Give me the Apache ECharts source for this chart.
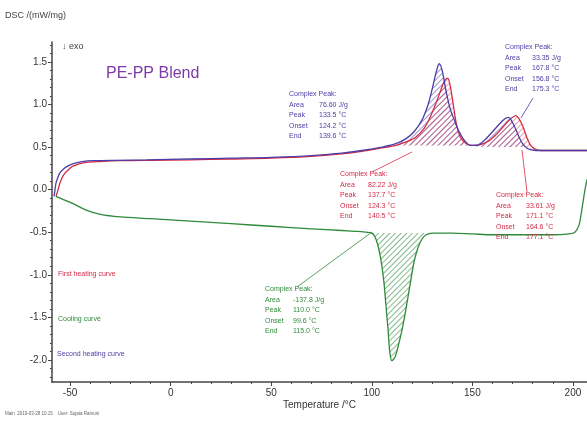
<!DOCTYPE html>
<html>
<head>
  <meta charset="utf-8">
  <title>DSC PE-PP Blend</title>
  <script src="https://cdn.jsdelivr.net/npm/echarts@6/dist/echarts.min.js"></script>
  <style>html, body { margin: 0; padding: 0; background: #fff; }</style>
</head>
<body>
  <div id="main" style="width:587px;height:426px;"></div>

  <script>
    // temperature (°C) and DSC signal (mW/mg)
    const heat1T = [-57, -56, -55, -54, -53, -51, -49, -46, -42, -35, -25, -10, 10, 30, 50, 70, 85, 95, 105, 112, 118, 122, 126, 129, 132, 134, 136, 137.7, 139, 140.5, 142, 144, 147, 150, 154, 158, 162, 165, 168, 170, 171.6, 173, 175, 177, 179, 181, 184, 190, 200, 207];
    const heat1Y = [-0.08, 0.0, 0.08, 0.14, 0.18, 0.23, 0.27, 0.3, 0.32, 0.33, 0.34, 0.345, 0.35, 0.36, 0.37, 0.39, 0.42, 0.45, 0.49, 0.52, 0.57, 0.62, 0.72, 0.85, 1.02, 1.15, 1.27, 1.31, 1.22, 1.0, 0.78, 0.62, 0.54, 0.52, 0.53, 0.57, 0.65, 0.73, 0.81, 0.85, 0.87, 0.84, 0.75, 0.62, 0.52, 0.48, 0.46, 0.46, 0.46, 0.46];

    const heat2T = [-58, -57.5, -57, -56, -55, -53, -51, -48, -44, -38, -28, -12, 10, 30, 50, 70, 85, 95, 105, 112, 117, 121, 125, 128, 130, 132, 133.5, 135, 137, 139, 141, 143, 146, 149, 152, 156, 160, 163, 166, 167.8, 169, 171, 173, 175, 177, 179, 182, 190, 200, 207];
    const heat2Y = [-0.08, 0.0, 0.08, 0.15, 0.2, 0.25, 0.28, 0.31, 0.33, 0.34, 0.345, 0.35, 0.36, 0.37, 0.38, 0.4, 0.43, 0.46, 0.5, 0.54, 0.6, 0.68, 0.82, 1.0, 1.18, 1.38, 1.48, 1.4, 1.15, 0.95, 0.82, 0.7, 0.58, 0.52, 0.52, 0.58, 0.68, 0.76, 0.83, 0.85, 0.83, 0.74, 0.63, 0.54, 0.49, 0.47, 0.46, 0.46, 0.46, 0.46];

    const coolT = [207, 206, 205, 204, 203, 201, 198, 190, 180, 170, 160, 150, 140, 130, 127, 125, 123, 121, 119, 117, 115, 113, 111.5, 110, 109, 108, 107, 106, 104.5, 103, 101.5, 100, 97, 93, 85, 70, 50, 30, 10, -10, -25, -35, -42, -48, -53, -57];
    const coolY = [0.12, 0.0, -0.15, -0.3, -0.42, -0.5, -0.52, -0.53, -0.53, -0.53, -0.53, -0.52, -0.51, -0.51, -0.53, -0.58, -0.68, -0.85, -1.12, -1.4, -1.65, -1.85, -1.97, -2.01, -1.92, -1.62, -1.35, -1.08, -0.82, -0.65, -0.55, -0.51, -0.5, -0.49, -0.48, -0.46, -0.43, -0.4, -0.37, -0.34, -0.32, -0.29, -0.24, -0.17, -0.12, -0.08];

    // hatched peak regions: [from T, to T, baseline]
    const heat1Peaks = [[112, 150, 0.52], [154, 181, 0.5]];
    const heat2Peaks = [[112, 152, 0.52], [152, 179, 0.5]];
    const coolPeaks = [[97, 130, -0.51]];

    const xTicks = [-50, 0, 50, 100, 150, 200];
    const yTicks = [1.5, 1.0, 0.5, 0.0, -0.5, -1.0, -1.5, -2.0];

    const noteHeat2a = ['Complex Peak:', ['Area', '76.60 J/g'], ['Peak', '133.5 °C'], ['Onset', '124.2 °C'], ['End', '139.6 °C']];
    const noteHeat2b = ['Complex Peak:', ['Area', '33.35 J/g'], ['Peak', '167.8 °C'], ['Onset', '156.8 °C'], ['End', '175.3 °C']];
    const noteHeat1a = ['Complex Peak:', ['Area', '82.22 J/g'], ['Peak', '137.7 °C'], ['Onset', '124.3 °C'], ['End', '140.5 °C']];
    const noteHeat1b = ['Complex Peak:', ['Area', '33.61 J/g'], ['Peak', '171.1 °C'], ['Onset', '164.6 °C'], ['End', '177.1 °C']];
    const noteCool = ['Complex Peak:', ['Area', '-137.8 J/g'], ['Peak', '110.0 °C'], ['Onset', '99.6 °C'], ['End', '115.0 °C']];

    const RED = '#d42a45', BLUE = '#4b3ea6', GREEN = '#2f8a3a';
    const FONT = 'Liberation Sans, Arial, sans-serif';

    const zip = (xs, ys) => xs.map((x, i) => [x, ys[i]]);

    function minors(step, lo, hi) {
      const out = [];
      for (let v = lo; v <= hi + 1e-9; v += step) out.push(+v.toFixed(3));
      return out;
    }

    function lineSeries(name, T, Y, color) {
      return {
        name, type: 'line', data: zip(T, Y), smooth: 0.3, symbol: 'none',
        lineStyle: { color, width: 1.3 }, z: 3
      };
    }

    function hatchSeries(T, Y, ranges, color) {
      return ranges.map(([a, b, base]) => ({
        type: 'line', symbol: 'none', smooth: 0.3, silent: true,
        data: zip(T, Y).filter(p => p[0] >= a && p[0] <= b).sort((p, q) => p[0] - q[0]),
        lineStyle: { width: 0, opacity: 0 },
        itemStyle: {
          color,
          decal: {
            symbol: 'rect', symbolSize: 1, color, backgroundColor: null,
            dashArrayX: [1, 0], dashArrayY: [1, 3], rotation: -Math.PI / 4
          }
        },
        areaStyle: { origin: base, color: 'rgba(255,255,255,0)', opacity: 1 },
        z: 2
      }));
    }

    function note(x, y, lines, color, col) {
      const rows = lines.map((l, i) => i === 0 ? '{h|' + l + '}' : '{k|' + l[0] + '}{v|' + l[1] + '}');
      return {
        type: 'text', left: x, top: y, z: 10,
        style: {
          text: rows.join('\n'), fill: color, font: '7px ' + FONT, lineHeight: 10.5,
          rich: {
            h: { fontSize: 7, fill: color, lineHeight: 10.5 },
            k: { fontSize: 7, fill: color, width: col, lineHeight: 10.5 },
            v: { fontSize: 7, fill: color, lineHeight: 10.5 }
          }
        }
      };
    }

    function leader(points, color) {
      return {
        type: 'polyline', z: 10, silent: true,
        shape: { points },
        style: { stroke: color, lineWidth: 0.8, fill: null }
      };
    }

    const chart = echarts.init(document.getElementById('main'));
    const axisColor = '#444';

    chart.setOption({
      animation: false,
      backgroundColor: '#fff',
      grid: { left: 52, right: 0, top: 42, bottom: 44, containLabel: false },
      xAxis: [{
        type: 'value', min: -59, max: 207, position: 'bottom',
        splitLine: { show: false },
        axisLine: { onZero: false, lineStyle: { color: axisColor, width: 1.5 } },
        axisTick: { customValues: xTicks, length: 4, lineStyle: { color: axisColor } },
        axisLabel: { customValues: xTicks, color: '#333', fontSize: 10, fontFamily: FONT, margin: 6 },
        name: 'Temperature /°C', nameLocation: 'middle', nameGap: 18, nameMoveOverlap: false,
        nameTextStyle: { color: '#333', fontSize: 10, fontFamily: FONT, verticalAlign: 'top' }
      }, {
        type: 'value', min: -59, max: 207, position: 'bottom',
        axisLine: { show: false, onZero: false }, axisLabel: { show: false }, splitLine: { show: false },
        axisTick: { customValues: minors(10, -50, 200), length: 2, lineStyle: { color: axisColor } }
      }],
      yAxis: [{
        type: 'value', min: -2.26, max: 1.735, position: 'left',
        splitLine: { show: false },
        axisLine: { show: true, onZero: false, lineStyle: { color: axisColor, width: 1.5 } },
        axisTick: { show: true, customValues: yTicks, length: 4, lineStyle: { color: axisColor } },
        axisLabel: {
          customValues: yTicks, color: '#333', fontSize: 10, fontFamily: FONT, margin: 5,
          formatter: v => v.toFixed(1)
        }
      }, {
        type: 'value', min: -2.26, max: 1.735, position: 'left',
        axisLine: { show: false, onZero: false }, axisLabel: { show: false }, splitLine: { show: false },
        axisTick: { show: true, customValues: minors(0.1, -2.2, 1.7), length: 2, lineStyle: { color: axisColor } }
      }],
      series: [
        ...hatchSeries(heat2T, heat2Y, heat2Peaks, 'rgba(75,62,166,0.55)'),
        ...hatchSeries(heat1T, heat1Y, heat1Peaks, 'rgba(212,42,69,0.45)'),
        ...hatchSeries(coolT, coolY, coolPeaks, 'rgba(47,138,58,0.6)'),
        lineSeries('First heating curve', heat1T, heat1Y, RED),
        lineSeries('Second heating curve', heat2T, heat2Y, BLUE),
        lineSeries('Cooling curve', coolT, coolY, GREEN)
      ],
      graphic: [
        { type: 'text', left: 5, top: 11, style: { text: 'DSC /(mW/mg)', fill: '#444', font: '9px ' + FONT } },
        { type: 'text', left: 62, top: 42, style: { text: '↓ exo', fill: '#444', font: '9px ' + FONT } },
        { type: 'text', left: 106, top: 66, style: { text: 'PE-PP Blend', fill: '#7d3aa8', font: '16px ' + FONT } },
        { type: 'text', left: 58, top: 271, style: { text: 'First heating curve', fill: RED, font: '7px ' + FONT } },
        { type: 'text', left: 58, top: 316, style: { text: 'Cooling curve', fill: GREEN, font: '7px ' + FONT } },
        { type: 'text', left: 57, top: 351, style: { text: 'Second heating curve', fill: BLUE, font: '7px ' + FONT } },
        { type: 'text', left: 5, top: 411, style: { text: 'Main  2019-03-28 10:15    User: Sujata Ramuni', fill: '#666', font: '4.5px ' + FONT } },
        note(289, 89, noteHeat2a, BLUE, 30),
        note(505, 42, noteHeat2b, BLUE, 27),
        note(340, 169, noteHeat1a, RED, 28),
        note(496, 190, noteHeat1b, RED, 30),
        note(265, 284, noteCool, GREEN, 28),
        leader([[372, 172], [412, 152]], RED),
        leader([[533, 98], [521, 118]], BLUE),
        leader([[527, 192], [522, 150]], RED),
        leader([[297, 287], [372, 232]], GREEN)
      ]
    });
  </script>
</body>
</html>
